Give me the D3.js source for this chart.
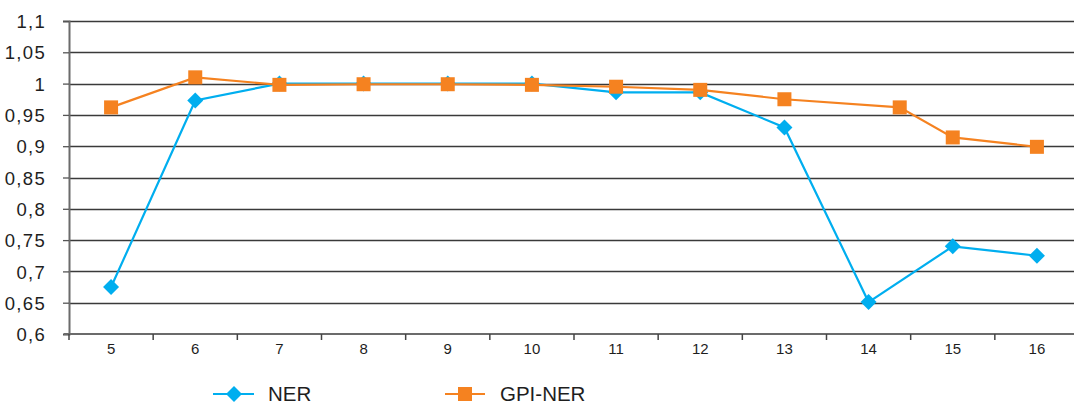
<!DOCTYPE html>
<html><head><meta charset="utf-8">
<script src="https://cdn.jsdelivr.net/npm/d3@7"></script>
<style>body{margin:0;background:#fff}svg{display:block}text{font-family:"Liberation Sans",Arial,sans-serif}</style>
</head><body><svg id="c" width="1074" height="405"></svg>
<script>
const categories = [5,6,7,8,9,10,11,12,13,14,15,16];
const nerX = [5,6,7,8,9,10,11,12,13,14,15,16];
const nerValues = [0.675,0.973,1.0,1.0,1.0,1.0,0.986,0.986,0.93,0.651,0.74,0.725];
const gpiX = [5,6,7,8,9,10,11,12,13,14.37,15,16];
const gpiValues = [0.962,1.01,0.998,0.999,0.999,0.998,0.995,0.99,0.975,0.962,0.914,0.899];
const yTicks = [0.6,0.65,0.7,0.75,0.8,0.85,0.9,0.95,1,1.05,1.1];
const seriesNames = ["NER","GPI-NER"];

const svg = d3.select("#c");
const L = 69, R = 1079, T = 21, B = 334;
const x = d3.scaleLinear().domain([4.5,16.5]).range([L,R]);
const y = d3.scaleLinear().domain([0.6,1.1]).range([B,T]);
const fmt = v => d3.format("")(v).replace(".",",");

// gridlines
svg.append("g").selectAll("line").data(yTicks.filter(v=>v>0.6)).join("line")
  .attr("x1",L).attr("x2",1074).attr("y1",d=>Math.round(y(d))+0.5).attr("y2",d=>Math.round(y(d))+0.5)
  .attr("stroke","#3a3a3a").attr("stroke-width",1.3);

// y axis
const yAxis = d3.axisLeft(y).tickValues(yTicks).tickFormat(fmt).tickSize(6).tickPadding(17);
const gy = svg.append("g").attr("transform",`translate(${L},0)`).call(yAxis);
gy.select(".domain").attr("stroke","#6b6b6b").attr("stroke-width",2);
gy.selectAll(".tick line").attr("stroke","#555").attr("stroke-width",1.3);
gy.selectAll("text").attr("font-size",18.5).attr("letter-spacing","1.3px").attr("fill","#1e1e1e").attr("dy","0.36em");

// x axis
const bounds = d3.range(4.5,17,1);
const gx = svg.append("g").attr("transform",`translate(0,${B})`);
gx.append("line").attr("x1",L-5).attr("x2",1074).attr("stroke","#6b6b6b").attr("stroke-width",2);
gx.selectAll(".tk").data(bounds).join("line").attr("class","tk")
  .attr("x1",d=>x(d)).attr("x2",d=>x(d)).attr("y1",0).attr("y2",6)
  .attr("stroke","#444").attr("stroke-width",1.5);
gx.selectAll("text").data(categories).join("text")
  .attr("x",d=>x(d)).attr("y",19.5).attr("text-anchor","middle")
  .attr("font-size",15).attr("fill","#1e1e1e").text(d=>d);

const blue = "#00aeef", orange = "#f58220";
const line = d3.line();
const nerPts = nerX.map((c,i)=>[x(c),y(nerValues[i])]);
const gpiPts = gpiX.map((c,i)=>[x(c),y(gpiValues[i])]);

svg.append("path").attr("d",line(nerPts)).attr("fill","none").attr("stroke",blue).attr("stroke-width",2.2);
const diamond = d3.symbol().type(d3.symbolSquare).size(128);
svg.append("g").selectAll("path").data(nerPts).join("path")
  .attr("d",diamond()).attr("transform",d=>`translate(${d[0]},${d[1]}) rotate(45)`).attr("fill",blue);

svg.append("path").attr("d",line(gpiPts)).attr("fill","none").attr("stroke",orange).attr("stroke-width",2.2);
svg.append("g").selectAll("rect").data(gpiPts).join("rect")
  .attr("x",d=>d[0]-7).attr("y",d=>d[1]-7).attr("width",14).attr("height",14).attr("fill",orange);

// legend
const lg = svg.append("g");
const ly = 394;
lg.append("line").attr("x1",213).attr("x2",254).attr("y1",ly).attr("y2",ly).attr("stroke",blue).attr("stroke-width",2.2);
lg.append("path").attr("d",diamond()).attr("transform",`translate(234,${ly}) rotate(45)`).attr("fill",blue);
lg.append("text").attr("x",268).attr("y",ly).attr("dy","0.36em").attr("font-size",20.5).attr("fill","#1e1e1e").text(seriesNames[0]);
lg.append("line").attr("x1",445).attr("x2",485).attr("y1",ly).attr("y2",ly).attr("stroke",orange).attr("stroke-width",2.2);
lg.append("rect").attr("x",458).attr("y",ly-7).attr("width",14).attr("height",14).attr("fill",orange);
lg.append("text").attr("x",500).attr("y",ly).attr("dy","0.36em").attr("font-size",20.5).attr("fill","#1e1e1e").text(seriesNames[1]);
</script></body></html>
